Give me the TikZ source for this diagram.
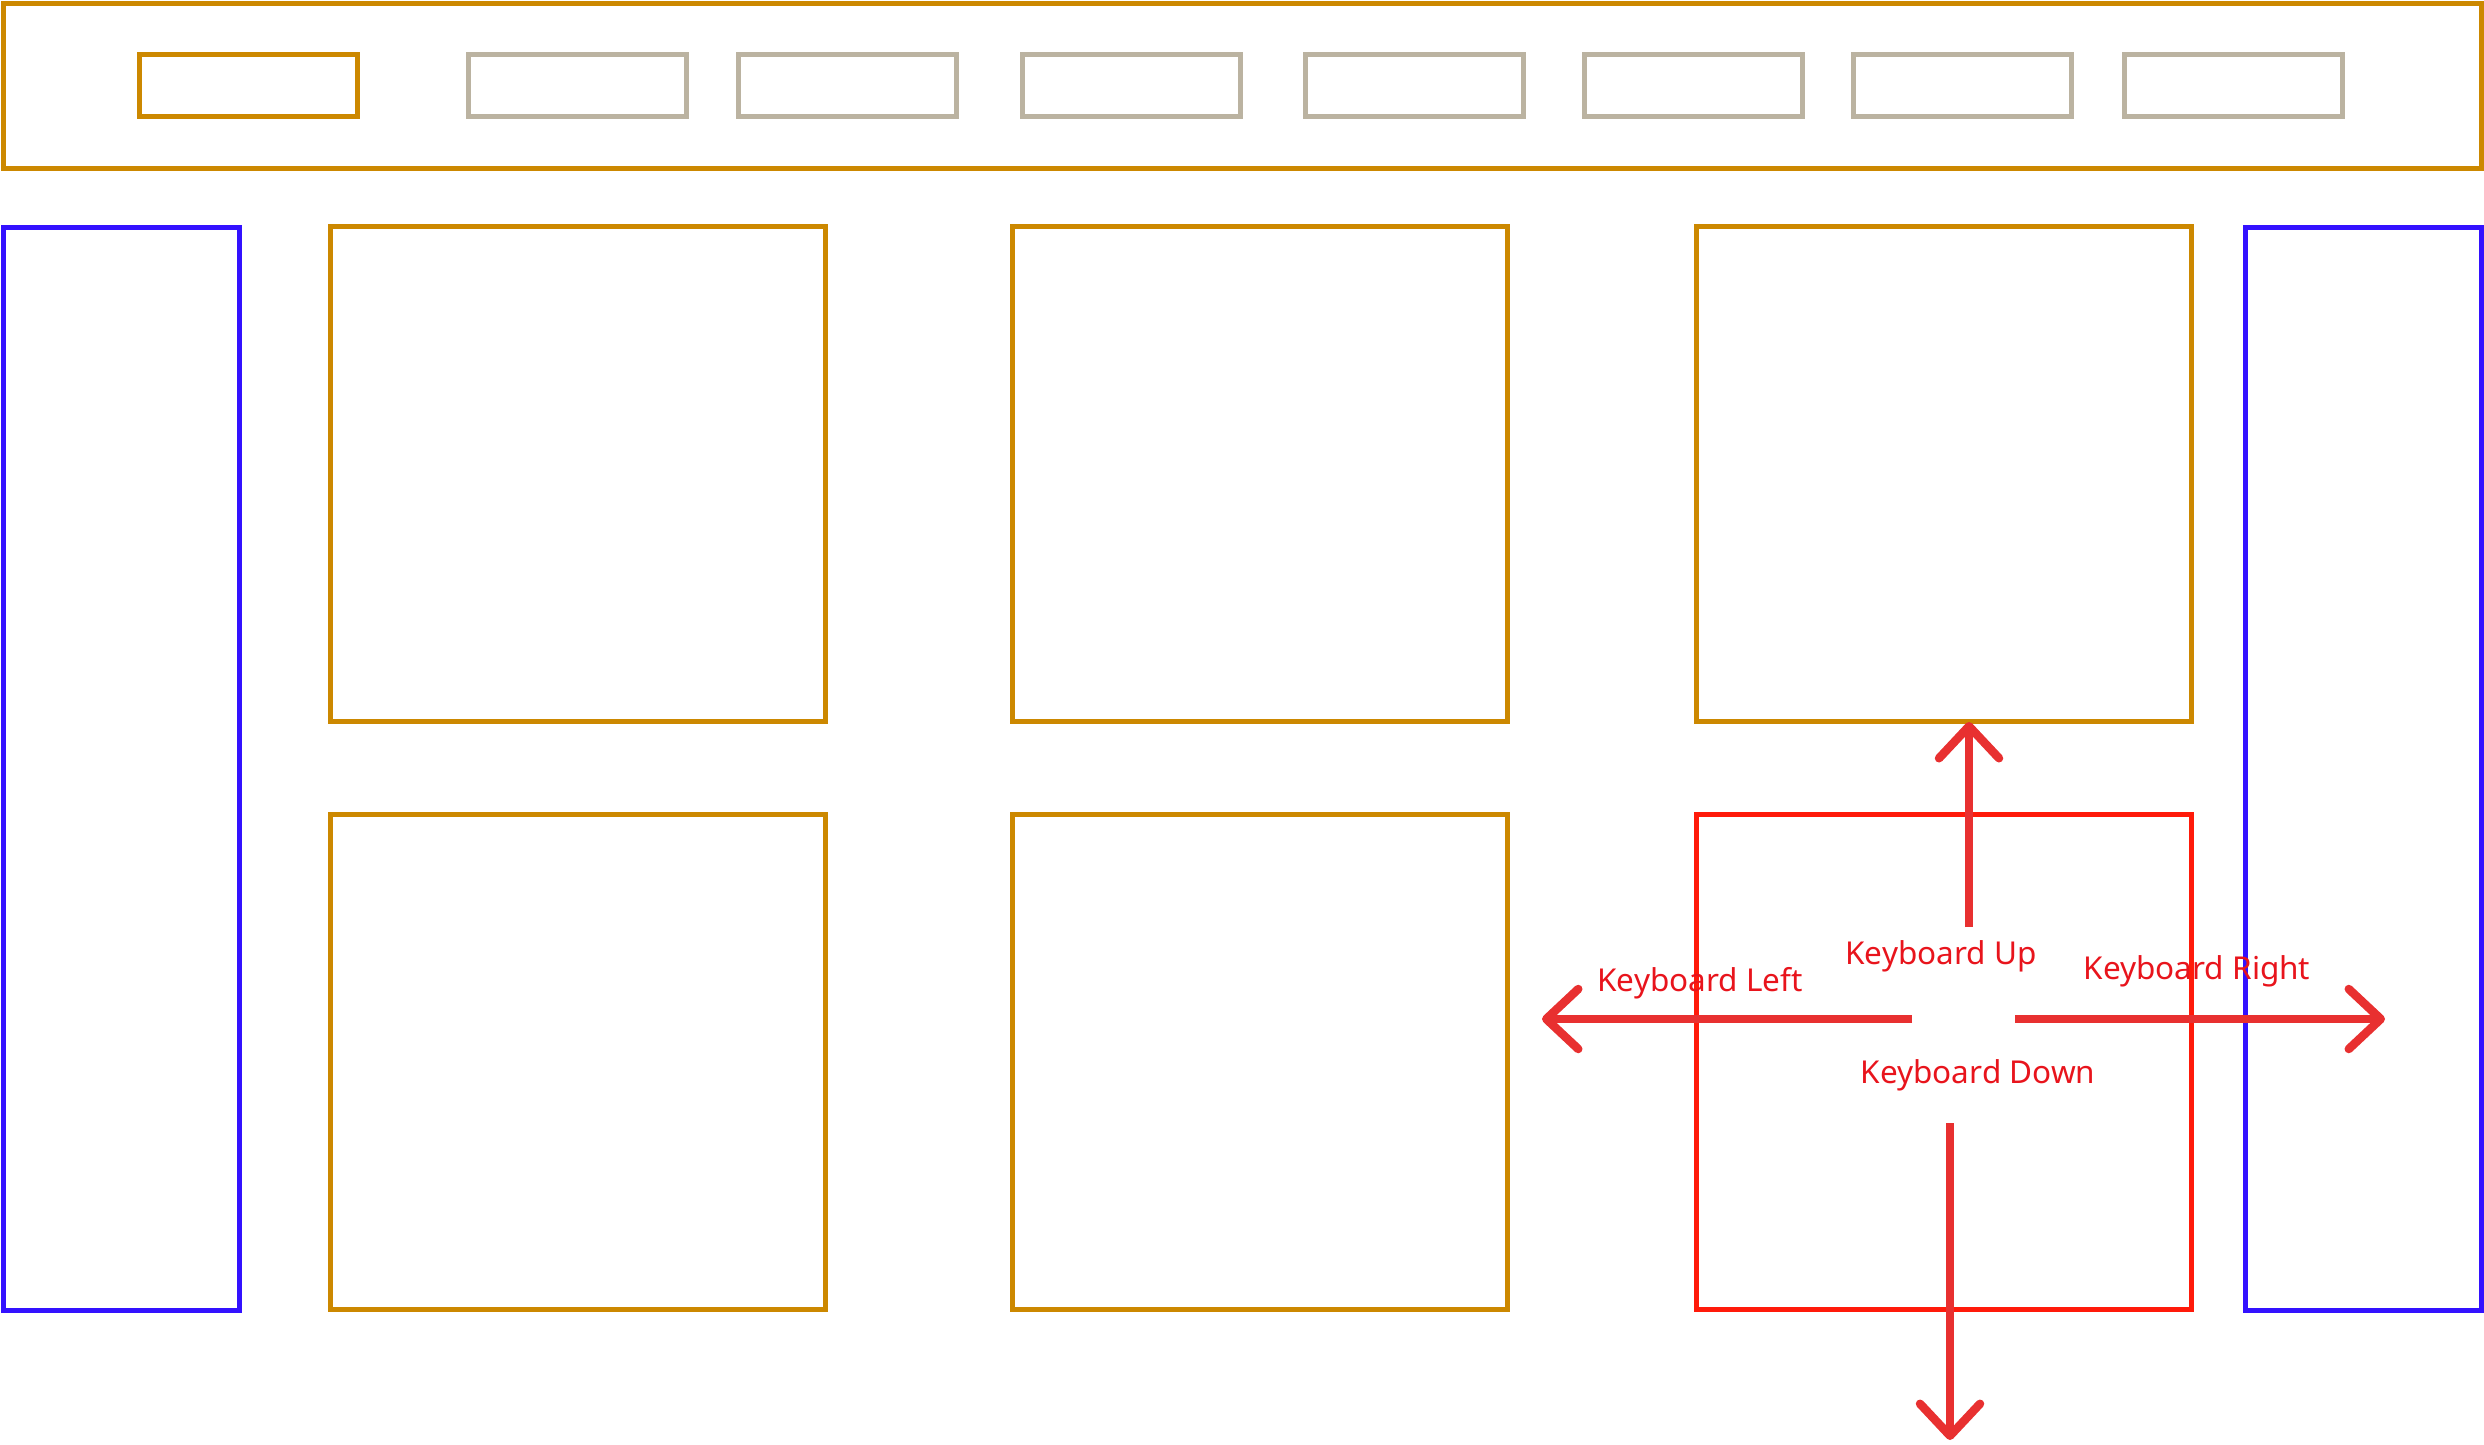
\documentclass[tikz,border=0pt]{standalone}
\usepackage{fontspec}
\setmainfont{Noto Sans}
\usetikzlibrary{arrows.meta}
\definecolor{goldc}{HTML}{CC8800}
\definecolor{greyc}{HTML}{BBB3A1}
\definecolor{bluec}{HTML}{3311FF}
\definecolor{redc}{HTML}{FF1A0A}
\definecolor{arrowc}{HTML}{E83030}
\definecolor{textc}{HTML}{E8141C}
\begin{document}
\begin{tikzpicture}[x=1pt,y=-1pt,
  box/.style={draw, inner sep=0pt, outer sep=0pt, line width=5pt},
  goldbox/.style={box, draw=goldc},
  greybox/.style={box, draw=greyc},
  bluebox/.style={box, draw=bluec},
  redbox/.style={box, draw=redc},
  tab/.style={minimum width=218pt, minimum height=62pt},
  tile/.style={minimum width=495pt, minimum height=495pt},
  side/.style={minimum width=236pt, minimum height=1083pt},
  arr/.style={draw=arrowc, line width=8.5pt, -{Straight Barb[length=32pt,width=60pt,round]}},
  lbl/.style={text=textc, font=\fontsize{31.5}{36}\selectfont, inner sep=0pt, anchor=base}]
\useasboundingbox (0,0) rectangle (2484,1444);
% header
\node[goldbox, minimum width=2478pt, minimum height=165pt] (header) at (1242,85.5) {};
\node[goldbox, tab] (t1) at (248.5,85) {};
\node[greybox, tab] (t2) at (577.5,85) {};
\node[greybox, tab] (t3) at (847.5,85) {};
\node[greybox, tab] (t4) at (1131,85) {};
\node[greybox, tab] (t5) at (1414.5,85) {};
\node[greybox, tab] (t6) at (1693.5,85) {};
\node[greybox, tab] (t7) at (1962.5,85) {};
\node[greybox, tab] (t8) at (2233.5,85) {};
% sides
\node[bluebox, side] (sl) at (121,768.5) {};
\node[bluebox, side] (sr) at (2363,768.5) {};
% tiles
\node[goldbox, tile] (g11) at (577.5,474) {};
\node[goldbox, tile] (g12) at (1260,474) {};
\node[goldbox, tile] (g13) at (1944,474) {};
\node[goldbox, tile] (g21) at (577.5,1062) {};
\node[goldbox, tile] (g22) at (1260,1062) {};
\node[redbox, tile] (g23) at (1944,1062) {};
% arrows
\coordinate (upS) at (1969,927);
\coordinate (upE) at (1969,722);
\coordinate (leS) at (1912,1019);
\coordinate (leE) at (1542,1019);
\coordinate (riS) at (2015,1019);
\coordinate (riE) at (2385,1019);
\coordinate (doS) at (1950,1123);
\coordinate (doE) at (1950,1440);
\draw[arr] (upS) -- (upE);
\draw[arr] (leS) -- (leE);
\draw[arr] (riS) -- (riE);
\draw[arr] (doS) -- (doE);
% labels
\node[lbl] (lup) at (1941,964) {Keyboard Up};
\node[lbl] (llf) at (1700,991) {Keyboard Left};
\node[lbl] (lrt) at (2197,979) {Keyboard Right};
\node[lbl] (ldn) at (1978,1083) {Keyboard Down};
\end{tikzpicture}
\end{document}
